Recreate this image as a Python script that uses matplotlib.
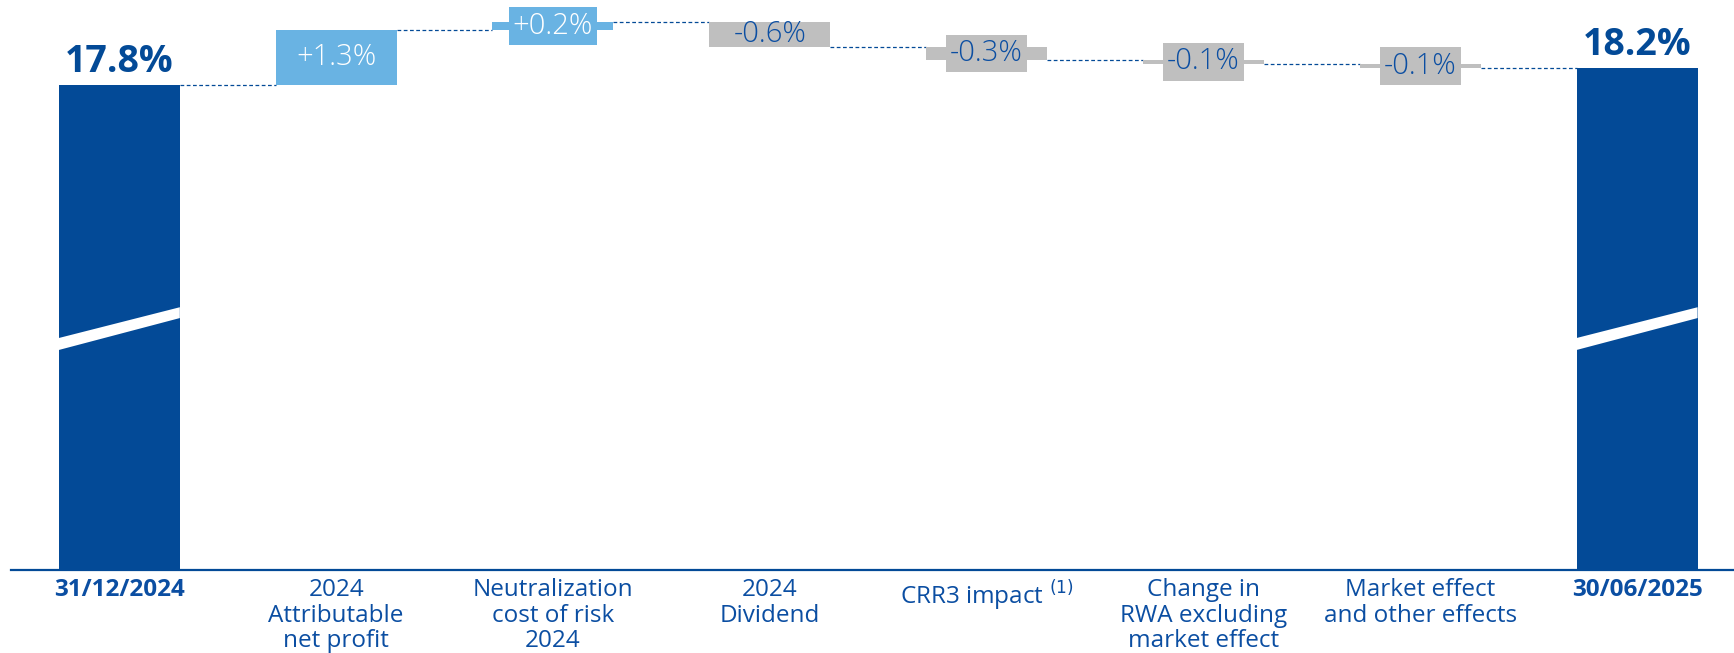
import matplotlib
matplotlib.use("Agg")
import matplotlib.pyplot as plt
import matplotlib.transforms as mtransforms
import numpy as np

plt.rcParams['font.family'] = ['Open Sans', 'DejaVu Sans']

# data
categories = ["31/12/2024",
              "2024\nAttributable\nnet profit",
              "Neutralization\ncost of risk\n2024",
              "2024\nDividend",
              "CRR3 impact $^{(1)}$",
              "Change in\nRWA excluding\nmarket effect",
              "Market effect\nand other effects",
              "30/06/2025"]
start_value = 17.8
deltas = [1.3, 0.2, -0.6, -0.3, -0.1, -0.1]
end_value = 18.2
delta_labels = ["+1.3%", "+0.2%", "-0.6%", "-0.3%", "-0.1%", "-0.1%"]

dark_blue = "#034A97"
light_blue = "#69B3E3"
grey = "#BFBFBF"
text_blue = "#0B4EA2"

floor = 6.25  # broken axis: bars of the totals start here
bar_w = 0.558

fig = plt.figure(figsize=(17.34, 6.53), dpi=100)
ax = fig.add_axes([0.0063, 0.1271, 0.9937, 0.8729])
ax.set_xlim(-0.5, 7.447)
ax.set_ylim(floor, 19.82)

x = np.arange(len(categories))

# totals
ax.bar([x[0], x[-1]], [start_value - floor, end_value - floor], bottom=floor,
       width=bar_w, color=dark_blue, zorder=2)
for xi, val in [(x[0], start_value), (x[-1], end_value)]:
    ax.annotate("%.1f%%" % val, (xi, val), xytext=(0, 3),
                textcoords="offset points", ha="center", va="bottom",
                fontsize=27, fontweight="bold", color=dark_blue)

# break marks on the totals
trans = mtransforms.blended_transform_factory(ax.transData, ax.transAxes)
for xi in [x[0], x[-1]]:
    xl, xr = xi - bar_w / 2, xi + bar_w / 2
    ax.fill([xl, xr, xr, xl], [0.407, 0.461, 0.442, 0.386],
            color="white", transform=trans, zorder=3, lw=0)

# deltas
levels = [start_value]
for d in deltas:
    levels.append(levels[-1] + d)

for i, d in enumerate(deltas):
    xi = x[i + 1]
    lo = min(levels[i], levels[i + 1])
    col = light_blue if d > 0 else grey
    tcol = "white" if d > 0 else text_blue
    ax.bar(xi, abs(d), bottom=lo, width=bar_w, color=col, zorder=2)
    mid = lo + abs(d) / 2
    if abs(d) >= 0.5:
        ax.text(xi, mid, delta_labels[i], ha="center", va="center",
                fontsize=21, color=tcol, fontweight="light", zorder=4)
    else:
        ax.text(xi, mid, delta_labels[i], ha="center", va="center",
                fontsize=21, color=tcol, fontweight="light", zorder=4,
                bbox=dict(boxstyle="square,pad=0.14", fc=col, ec="none"))

# connectors
for i in range(len(categories) - 1):
    lvl = levels[i] if i < len(levels) else end_value
    ax.plot([x[i] + bar_w / 2, x[i + 1] - bar_w / 2], [lvl, lvl],
            color=dark_blue, lw=0.9, ls=(0, (3, 2)), zorder=1)

# axes styling
for s in ["top", "right", "left"]:
    ax.spines[s].set_visible(False)
ax.spines["bottom"].set_color(dark_blue)
ax.spines["bottom"].set_linewidth(1.6)
ax.set_yticks([])
ax.set_xticks(x)
ax.set_xticklabels(categories, fontsize=17.5, color=text_blue, linespacing=1.08)
ax.tick_params(axis="x", length=0, pad=6)
for lab in [ax.get_xticklabels()[0], ax.get_xticklabels()[-1]]:
    lab.set_fontweight("bold")

fig.savefig("out.png", dpi=100)
